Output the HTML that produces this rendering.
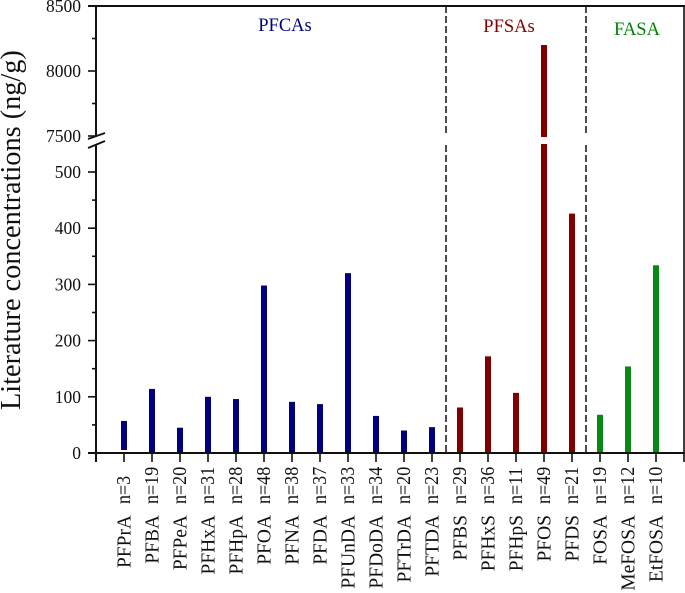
<!DOCTYPE html>
<html>
<head>
<meta charset="utf-8">
<style>
html,body{margin:0;padding:0;background:#fff;}
svg{display:block;font-family:"Liberation Serif",serif;}
</style>
</head>
<body>
<svg id="chart" width="685" height="593" viewBox="0 0 685 593" xmlns="http://www.w3.org/2000/svg">
<text transform="translate(20,410) rotate(-90)" font-size="28.3" fill="#111">Literature concentrations (ng/g)</text>
<text x="285" y="31" font-size="18.5" text-anchor="middle" fill="#000080">PFCAs</text>
<text x="509" y="32" font-size="18.5" text-anchor="middle" fill="#800000">PFSAs</text>
<text x="637" y="35" font-size="18.5" text-anchor="middle" fill="#008000">FASA</text>
</svg>
<script>
const compounds = ['PFPrA','PFBA','PFPeA','PFHxA','PFHpA','PFOA','PFNA','PFDA','PFUnDA','PFDoDA','PFTrDA','PFTDA','PFBS','PFHxS','PFHpS','PFOS','PFDS','FOSA','MeFOSA','EtFOSA'];
const sampleCounts = [3,19,20,31,28,48,38,37,33,34,20,23,29,36,11,49,21,19,12,10];
const concentrations = [57,114,45,100,96,298,91,87,320,66,40,46,81,172,107,8200,426,68,154,334];
const groups = ['PFCA','PFCA','PFCA','PFCA','PFCA','PFCA','PFCA','PFCA','PFCA','PFCA','PFCA','PFCA','PFSA','PFSA','PFSA','PFSA','PFSA','FASA','FASA','FASA'];
const lowerTicks = [0,100,200,300,400,500];
const lowerMinorTicks = [50,150,250,350,450];
const upperTicks = [7500,8000,8500];
const upperMinorTicks = [7750,8250];
const groupDividers = [11.5,16.5];

const svg = document.getElementById('chart');
const NS = 'http://www.w3.org/2000/svg';
const groupColors = {PFCA:'#000080',PFSA:'#800000',FASA:'#078a14'};
const ink = '#111';
const LEFT = 96, RIGHT = 684, TOP = 6, BASE = 453;
const LOWER_TOP = 144, UPPER_BOTTOM = 137;
const LOWER_MAX = (BASE - LOWER_TOP) / 0.562;

function xPos(i){ return LEFT + 28 + i * 28; }
function yLower(v){ return BASE - v * 0.562; }
function yUpper(v){ return 136 - (v - 7500) * 0.13; }

function add(tag, attrs, text){
  const el = document.createElementNS(NS, tag);
  for (const k in attrs) el.setAttribute(k, attrs[k]);
  if (text !== undefined) el.textContent = text;
  svg.appendChild(el);
  return el;
}

// bars
compounds.forEach(function(name, i){
  const v = concentrations[i];
  const color = groupColors[groups[i]];
  const x = xPos(i) - 3;
  if (v > LOWER_MAX) {
    const lowerBar = add('rect', {x:x, y:LOWER_TOP, width:6, height:BASE - LOWER_TOP, fill:color});
    
    
    const upperBar = add('rect', {x:x, y:yUpper(v), width:6, height:UPPER_BOTTOM - yUpper(v), fill:color});
    
    
  } else {
    const bar = add('rect', {x:x, y:yLower(v), width:6, height:BASE - yLower(v), fill:color});
    
    
  }
});

// gap under the first bar
const gap = add('rect', {x:xPos(0) - 4, y:450, width:8, height:3, fill:'#fff'});



// group dividers
groupDividers.forEach(function(pos){
  const x = xPos(pos);
  const upperDivider = add('line', {x1:x, x2:x, y1:TOP, y2:136, stroke:'#222', 'stroke-width':1.6, 'stroke-dasharray':'7 3'});
  
  
  const lowerDivider = add('line', {x1:x, x2:x, y1:145, y2:BASE, stroke:'#222', 'stroke-width':1.6, 'stroke-dasharray':'7 3'});
  
  
});

// frame
const topAxis = add('line', {x1:88, x2:RIGHT + 1, y1:TOP, y2:TOP, stroke:ink, 'stroke-width':2});


const rightAxis = add('line', {x1:RIGHT, x2:RIGHT, y1:TOP, y2:462, stroke:ink, 'stroke-width':1.6});


const bottomAxis = add('line', {x1:88, x2:RIGHT + 1, y1:BASE, y2:BASE, stroke:ink, 'stroke-width':2});


const leftUpper = add('line', {x1:LEFT, x2:LEFT, y1:TOP, y2:136, stroke:ink, 'stroke-width':2});


const leftLower = add('line', {x1:LEFT, x2:LEFT, y1:145, y2:462, stroke:ink, 'stroke-width':2});



// axis break marks
const breakTop = add('line', {x1:88, y1:139, x2:105, y2:133, stroke:ink, 'stroke-width':1.8});


const breakBottom = add('line', {x1:88, y1:148, x2:105, y2:141, stroke:ink, 'stroke-width':1.8});



// y ticks
function yTick(y, label){
  const tick = add('line', {x1:88, x2:LEFT, y1:y, y2:y, stroke:ink, 'stroke-width':1.6});
  
  
  const text = add('text', {x:81, y:y + 6, 'font-size':17.5, 'text-anchor':'end', fill:'#111'}, label);
  
  
}
function yMinorTick(y){
  const tick = add('line', {x1:92, x2:LEFT, y1:y, y2:y, stroke:ink, 'stroke-width':1.6});
  
  
}
lowerTicks.forEach(function(v){ yTick(yLower(v), v); });
upperTicks.forEach(function(v){ yTick(yUpper(v), v); });
lowerMinorTicks.forEach(function(v){ yMinorTick(yLower(v)); });
upperMinorTicks.forEach(function(v){ yMinorTick(yUpper(v)); });

// x ticks and labels
compounds.forEach(function(name, i){
  const x = xPos(i);
  const tick = add('line', {x1:x, x2:x, y1:BASE, y2:462, stroke:ink, 'stroke-width':1.6});
  
  
  const nameLabel = add('text', {transform:'translate(' + (x + 6.5) + ',515) rotate(-90) scale(0.95,1)', 'font-size':20.5, 'text-anchor':'end', fill:'#111'}, name);
  
  
  const countLabel = add('text', {transform:'translate(' + (x + 6) + ',504) rotate(-90) scale(0.88,1)', 'font-size':20.5, fill:'#111'}, 'n=' + sampleCounts[i]);
  
  
});
</script>
</body>
</html>
